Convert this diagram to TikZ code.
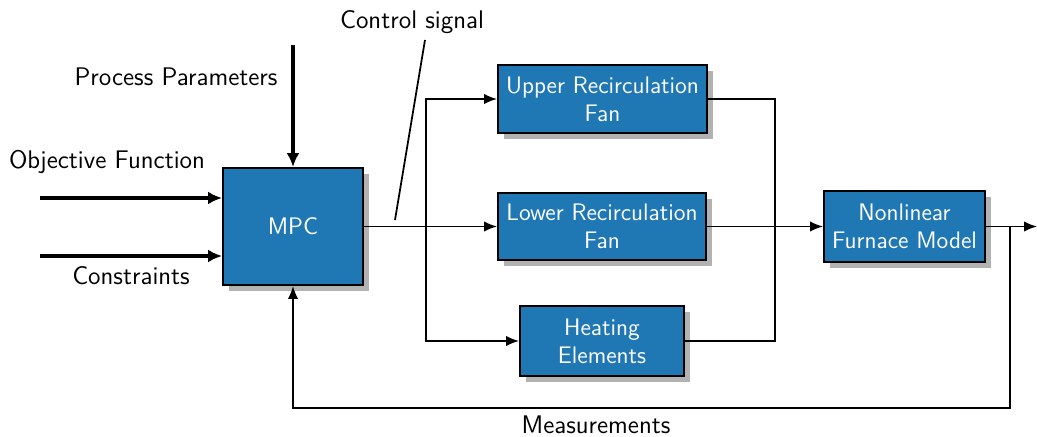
\documentclass[tikz,border=0pt]{standalone}
\usetikzlibrary{arrows.meta,shadows}
\definecolor{blockblue}{HTML}{1F77B4}
\tikzset{
  block/.style={draw, line width=1.1pt, fill=blockblue, text=white, align=center, inner sep=0pt,
    font=\sffamily\fontsize{13.6}{16}\selectfont,
    drop shadow={shadow xshift=0.12cm, shadow yshift=-0.12cm, fill=black!30, opacity=1}},
  lbl/.style={font=\sffamily\fontsize{14.5}{17}\selectfont, inner sep=0pt},
  sig/.style={-{Latex[length=2.6mm, width=2.1mm]}, line width=1pt},
  feed/.style={-{Latex[length=2.8mm, width=2.6mm]}, line width=2.3pt},
}

\begin{document}
\begin{tikzpicture}[x=0.2mm, y=-0.2mm]
    \useasboundingbox (0,0) rectangle (1037,437);
    % blocks
    \node[block, minimum width=2.8cm, minimum height=2.34cm] (mpc) at (293,226.5) {MPC};
    \node[block, minimum width=4.18cm, minimum height=1.36cm] (upper) at (602.5,99) {Upper Recirculation\\Fan};
    \node[block, minimum width=4.16cm, minimum height=1.34cm] (lower) at (602,226.5) {Lower Recirculation\\Fan};
    \node[block, minimum width=3.28cm, minimum height=1.4cm] (heat) at (602,341) {Heating\\Elements};
    \node[block, minimum width=3.22cm, minimum height=1.42cm] (plant) at (904.5,226.5) {Nonlinear\\Furnace Model};
    % labels
    \node[lbl] (pplbl) at (176,77) {Process Parameters};
    \node[lbl] (objlbl) at (107,162) {Objective Function};
    \node[lbl] (conlbl) at (131,276) {Constraints};
    \node[lbl] (ctrllbl) at (412,22) {Control signal};
    \node[lbl] (measlbl) at (596,425) {Measurements};
    % free ends
    \coordinate (ppin) at (293,45);
    \coordinate (objin) at (40,198);
    \coordinate (conin) at (40,256);
    \coordinate (ctrlpin) at (425,40);
    \coordinate (ctrltip) at (395,220);
    \coordinate (split) at (426,226.5);
    \coordinate (merge) at (775,226.5);
    \coordinate (tap) at (1010,226.5);
    \coordinate (fb) at (1010,408);
    \coordinate (outend) at (1037,226.5);
    % inputs
    \draw[feed] (ppin) -- (mpc.north);
    \draw[feed] (objin) -- (mpc.west |- objin);
    \draw[feed] (conin) -- (mpc.west |- conin);
    \draw[line width=1pt] (ctrlpin) -- (ctrltip);
    % actuators
    \draw[sig] (mpc.east) -- (lower.west);
    \draw[sig] (split) |- (upper.west);
    \draw[sig] (split) |- (heat.west);
    \draw[line width=1pt] (upper.east) -| (merge);
    \draw[line width=1pt] (heat.east) -| (merge);
    \draw[sig] (lower.east) -- (plant.west);
    % output and feedback
    \draw[sig] (plant.east) -- (outend);
    \draw[sig] (tap) -- (fb) -| (mpc.south);
\end{tikzpicture}
\end{document}
